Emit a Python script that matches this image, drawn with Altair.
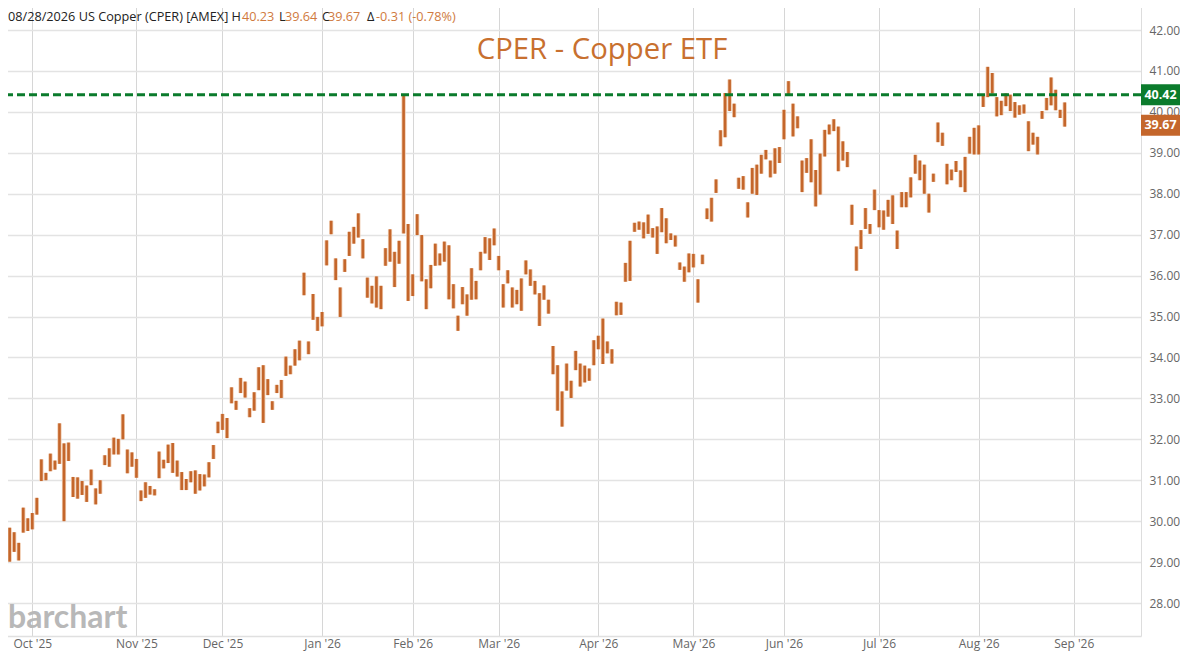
import json
import altair as alt
import pandas as pd

# ---------------- data ----------------
FIRST_INDEX = -7  # trading-day index of the first bar (0 = Oct 1 2025)

highs = [
    28.66, 28.63, 29.84, 29.73, 29.47, 30.33, 30.07,
    30.20, 30.57, 31.51, 31.18, 31.65, 31.48, 32.39, 31.90, 31.92, 31.08,
    31.07, 30.98, 30.87, 31.26, 30.80, 31.00, 31.61, 31.78, 32.04, 32.01,
    32.61, 31.75, 31.68, 31.52, 30.75, 30.95, 30.86, 30.78, 31.70, 31.50,
    31.87, 31.91, 31.48, 31.20, 31.03, 31.22, 31.24, 31.15, 31.14, 31.44,
    31.86, 32.43, 32.62, 32.52, 33.27, 32.94, 33.50, 33.41, 32.76, 33.15,
    33.76, 33.81, 33.47, 32.93, 33.33, 33.45, 34.02, 33.80, 34.20, 34.41,
    36.07, 34.39, 35.55, 34.99, 35.11, 36.86, 37.34, 36.42, 35.71, 36.40,
    37.07, 37.19, 37.52, 36.89, 35.95, 35.75, 35.98, 35.75, 36.67, 37.13,
    36.58, 36.85, 40.42, 37.26, 36.03, 37.50, 36.99, 35.91, 36.26, 36.78,
    36.54, 36.83, 36.74, 35.79, 35.02, 35.72, 35.54, 36.18, 35.87, 36.58,
    36.94, 36.91, 37.15, 36.48, 35.79, 36.13, 35.71, 35.65, 35.93, 36.37,
    36.15, 35.87, 35.57, 35.76, 35.41, 34.28, 33.81, 33.17, 33.85, 33.43,
    34.16, 33.85, 33.80, 33.73, 34.42, 34.53, 34.95, 34.39, 34.20, 35.36,
    35.34, 36.31, 36.85, 37.29, 37.32, 37.30, 37.49, 37.16, 37.20, 37.65,
    37.40, 37.03, 36.98, 36.32, 36.22, 36.54, 36.53, 35.91, 36.51, 37.64,
    37.90, 38.35, 39.55, 40.46, 40.79, 40.20, 38.39, 38.43, 37.79, 38.63,
    38.71, 38.95, 39.07, 38.81, 39.11, 39.14, 40.05, 40.75, 40.20, 39.89,
    38.81, 38.87, 39.33, 38.58, 38.98, 39.56, 39.69, 39.82, 39.64, 39.28,
    39.02, 37.73, 36.71, 37.11, 37.65, 37.26, 38.10, 37.60, 37.59, 37.85,
    37.96, 37.10, 38.04, 38.04, 38.40, 38.95, 38.81, 38.71, 38.00, 38.49,
    39.74, 39.49, 38.73, 38.59, 38.80, 38.57, 38.90, 39.39, 39.61, 39.67,
    40.41, 41.10, 40.95, 40.36, 40.27, 40.45, 40.42, 40.24, 40.16, 40.18,
    39.77, 39.49, 39.39, 40.02, 40.34, 40.84, 40.54, 40.05, 40.23,
]

lows = [
    28.35, 28.49, 29.01, 29.25, 29.04, 29.72, 29.76,
    29.80, 30.16, 30.98, 31.00, 31.22, 31.26, 31.40, 30.00, 31.47, 30.59,
    30.55, 30.64, 30.47, 30.88, 30.41, 30.67, 31.37, 31.33, 31.63, 31.63,
    32.00, 31.17, 31.33, 31.06, 30.49, 30.57, 30.65, 30.63, 31.05, 31.29,
    31.42, 31.18, 31.09, 30.76, 30.76, 30.95, 30.67, 30.75, 30.85, 31.07,
    31.52, 32.15, 32.23, 32.03, 32.88, 32.72, 33.13, 33.02, 32.54, 32.70,
    33.20, 32.40, 33.08, 32.72, 33.13, 33.01, 33.55, 33.59, 33.80, 33.93,
    35.52, 34.08, 34.92, 34.65, 34.76, 36.25, 37.01, 35.89, 34.99, 36.09,
    36.48, 36.78, 36.93, 36.42, 35.46, 35.32, 35.22, 35.18, 36.24, 36.34,
    35.72, 36.29, 37.03, 35.38, 35.50, 36.99, 35.86, 35.18, 35.69, 36.24,
    36.25, 36.34, 35.42, 35.20, 34.65, 35.30, 35.02, 35.41, 35.42, 36.13,
    36.54, 36.38, 36.74, 36.13, 35.22, 35.81, 35.22, 35.30, 35.14, 36.03,
    35.75, 35.54, 34.77, 35.41, 35.07, 33.59, 32.70, 32.31, 33.19, 33.01,
    33.69, 33.29, 33.39, 33.43, 33.81, 34.20, 33.84, 34.10, 33.85, 35.03,
    35.04, 35.85, 35.87, 37.07, 37.12, 36.91, 37.02, 36.93, 36.53, 37.06,
    36.79, 36.87, 36.71, 36.14, 35.85, 36.08, 36.20, 35.34, 36.28, 37.38,
    37.32, 38.02, 39.16, 39.38, 40.02, 39.87, 38.12, 38.10, 37.42, 38.00,
    37.97, 38.49, 38.84, 38.40, 38.49, 38.75, 39.33, 40.40, 39.40, 39.60,
    38.04, 38.51, 38.28, 37.69, 37.98, 38.91, 39.45, 39.53, 38.55, 38.81,
    38.65, 37.24, 36.12, 36.65, 37.14, 37.02, 37.60, 37.18, 37.12, 37.44,
    37.26, 36.65, 37.67, 37.67, 37.91, 38.49, 38.33, 38.00, 37.54, 38.29,
    39.26, 39.17, 38.23, 38.33, 38.53, 38.16, 38.04, 38.98, 38.96, 38.96,
    40.12, 40.36, 40.45, 39.89, 39.92, 40.14, 40.02, 39.86, 39.93, 39.96,
    39.04, 39.20, 38.96, 39.83, 40.04, 40.16, 40.04, 39.85, 39.64,
]

month_index = [0, 23, 42, 64, 84, 103, 125, 146, 166, 187, 209, 230]
month_labels = ["Oct '25", "Nov '25", "Dec '25", "Jan '26", "Feb '26", "Mar '26",
                "Apr '26", "May '26", "Jun '26", "Jul '26", "Aug '26", "Sep '26"]
price_ticks = list(range(28, 43))

resistance = 40.42
last_close = 39.67

header_labels = ["08/28/2026 US Copper (CPER) [AMEX] H", "L", "C", "\u0394"]
header_values = ["40.23", "39.64", "39.67", "-0.31 (-0.78%)"]
chart_title = "CPER - Copper ETF"

# ---------------- layout ----------------
W, H = 1141, 636
TAG_W = 39
FONT = "Open Sans"
COPPER = "#c4662b"
GREEN = "#0b7b2c"

PX_PER_UNIT = 40.93
x_dom = [-7.133, 244.85]
y_top = 42.733
y_dom = [y_top - H / PX_PER_UNIT, y_top]

df = pd.DataFrame({
    "idx": list(range(FIRST_INDEX, FIRST_INDEX + len(highs))),
    "high": highs,
    "low": lows,
})

xs = alt.Scale(domain=x_dom, nice=False, zero=False)
ys = alt.Scale(domain=y_dom, nice=False, zero=False)

label_expr = f"{json.dumps(month_labels)}[indexof({json.dumps(month_index)}, datum.value)]"

x_axis = alt.Axis(values=month_index, labelExpr=label_expr, grid=True,
                  gridColor="#d6d6d6", gridWidth=1, ticks=False, domain=True,
                  domainColor="#e0e0e0", domainWidth=1.5, labelFont=FONT,
                  labelFontSize=12, labelColor="#666666", labelPadding=2,
                  title=None, labelFlush=False, labelOverlap=False)
y_axis = alt.Axis(orient="right", values=price_ticks, format=".2f", grid=True,
                  gridColor="#e3e3e3", gridWidth=1.6, ticks=False, domain=True,
                  domainColor="#dddddd", domainWidth=1, labelAlign="left",
                  labelBaseline="middle", labelPadding=8, labelFont=FONT,
                  labelFontSize=12, labelColor="#666666", title=None,
                  labelFlush=False, labelOverlap=False)

base = alt.Chart(df)
halo = base.mark_rule(strokeWidth=4.2, color="#efc9ad").encode(
    x=alt.X("idx:Q", scale=xs, axis=x_axis),
    y=alt.Y("low:Q", scale=ys, axis=y_axis),
    y2="high:Q",
)
core = base.mark_rule(strokeWidth=2.6, color=COPPER).encode(
    x=alt.X("idx:Q", scale=xs), y=alt.Y("low:Q", scale=ys), y2="high:Q"
)

level_df = pd.DataFrame({"v": [resistance]})
level = alt.Chart(level_df).mark_rule(color=GREEN, strokeWidth=3, strokeDash=[8, 4]).encode(
    y=alt.Y("v:Q", scale=ys)
)

half = 10.5 / PX_PER_UNIT
tag_df = pd.DataFrame({"v": [resistance, last_close], "c": [GREEN, COPPER]})
tags = alt.Chart(tag_df).transform_calculate(
    top=f"datum.v + {half}", bot=f"datum.v - {half}"
).mark_rect().encode(
    x=alt.value(W), x2=alt.value(W + TAG_W),
    y=alt.Y("top:Q", scale=ys), y2="bot:Q",
    color=alt.Color("c:N", scale=None),
)
tag_text = alt.Chart(tag_df).mark_text(
    align="center", baseline="middle", font=FONT, fontSize=12.5,
    fontWeight="bold", color="white"
).encode(x=alt.value(W + TAG_W / 2), y=alt.Y("v:Q", scale=ys),
         text=alt.Text("v:Q", format=".2f"))

title_df = pd.DataFrame({"t": [chart_title]})
title = alt.Chart(title_df).mark_text(
    align="center", baseline="middle", font=FONT, fontSize=29.3, color="#c8702f"
).encode(x=alt.value(602), y=alt.value(50), text="t:N")

label_x = [8, 279, 322, 367]
value_x = [242, 285, 328, 376]
hdr_lab = alt.Chart(pd.DataFrame({"t": header_labels, "px": label_x})).mark_text(
    align="left", baseline="middle", font=FONT, fontSize=12.7, color="#222222"
).encode(x=alt.X("px:Q", scale=None), y=alt.value(16.5), text="t:N")
hdr_val = alt.Chart(pd.DataFrame({"t": header_values, "px": value_x})).mark_text(
    align="left", baseline="middle", font=FONT, fontSize=12.7, color="#d07a3e"
).encode(x=alt.X("px:Q", scale=None), y=alt.value(16.5), text="t:N")

logo = alt.Chart(pd.DataFrame({"t": ["barchart"]})).mark_text(
    align="left", baseline="alphabetic", font="Lato", fontSize=32,
    fontWeight="bold", color="#b8b8b8"
).encode(x=alt.value(8), y=alt.value(628), text="t:N")

chart = alt.layer(
    halo, core, level, tags, tag_text, title, hdr_lab, hdr_val, logo
).properties(
    width=W, height=H,
    autosize=alt.AutoSizeParams(type="none"),
    padding={"left": -8, "top": -8, "right": TAG_W, "bottom": 16},
    background="white",
).configure_view(stroke=None)

chart.save("out.html", embed_options={"renderer": "svg", "actions": False})
